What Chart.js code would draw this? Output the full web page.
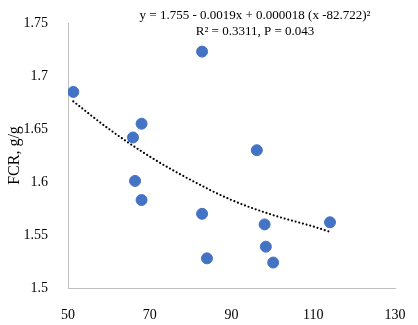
<!DOCTYPE html>
<html>
<head>
<meta charset="utf-8">
<script src="https://cdn.jsdelivr.net/npm/chart.js@4"></script>
<style>
  html, body { margin: 0; padding: 0; background: #fff; }
  #wrap { width: 418px; height: 325px; }
</style>
</head>
<body>
<div id="wrap"><canvas id="c"></canvas></div>
<script>
// observed points (x, FCR)
const pointX = [51.3, 82.8, 68.0, 65.9, 96.2, 66.4, 68.0, 82.8, 98.1, 114.1, 98.4, 84.0, 100.2]
const pointY = [1.685, 1.723, 1.655, 1.642, 1.630, 1.601, 1.583, 1.570, 1.560, 1.562, 1.539, 1.528, 1.524]

// dotted trend line
const trendX = [51.3, 60, 70, 80, 90, 100, 110, 114.1]
const trendY = [1.676, 1.650, 1.624, 1.602, 1.583, 1.569, 1.558, 1.553]

const yTicks = [1.5, 1.55, 1.6, 1.65, 1.7, 1.75]
const xTicks = [50, 70, 90, 110, 130]

const eqLine1 = 'y = 1.755 - 0.0019x + 0.000018 (x -82.722)²'
const eqLine2 = 'R² = 0.3311, P = 0.043'

const serif = '"Liberation Serif", "Times New Roman", serif'

const equationText = {
  id: 'equationText',
  afterDraw(chart){
    const ctx = chart.ctx
    ctx.save()
    ctx.fillStyle = '#000'
    ctx.font = '13px ' + serif
    ctx.textAlign = 'center'
    ctx.textBaseline = 'middle'
    ctx.fillText(eqLine1, 255, 16)
    ctx.fillText(eqLine2, 255, 32)
    ctx.restore()
  }
}

const data = {
  datasets: [{
    label: 'FCR',
    data: pointX.map((x, i) => ({x: x, y: pointY[i]})),
    backgroundColor: '#4472C4',
    borderColor: '#4472C4',
    pointRadius: 5.5,
    pointHoverRadius: 5.5,
    order: 1
  }, {
    label: 'trend',
    data: trendX.map((x, i) => ({x: x, y: trendY[i]})),
    showLine: true,
    fill: false,
    pointRadius: 0,
    borderColor: '#000',
    borderWidth: 2.2,
    borderDash: [0, 3.8],
    borderCapStyle: 'round',
    cubicInterpolationMode: 'monotone',
    order: 2
  }]
}

const config = {
  type: 'scatter',
  data: data,
  options: {
    responsive: true,
    maintainAspectRatio: false,
    animation: false,
    layout: {padding: {top: 23, right: 23, left: 5, bottom: 0}},
    plugins: {
      legend: {display: false},
      tooltip: {enabled: false}
    },
    scales: {
      x: {
        type: 'linear',
        min: 50,
        max: 130,
        afterBuildTicks: axis => { axis.ticks = xTicks.map(v => ({value: v})) },
        afterFit: axis => { axis.height = 37 },
        grid: {display: false},
        border: {display: true, color: '#bfbfbf', width: 1},
        ticks: {
          color: '#000',
          padding: 11,
          font: {family: serif, size: 14},
          callback: v => String(v)
        }
      },
      y: {
        min: 1.5,
        max: 1.75,
        afterBuildTicks: axis => { axis.ticks = yTicks.map(v => ({value: v})) },
        afterFit: axis => { axis.width = 63 },
        grid: {display: false},
        border: {display: true, color: '#bfbfbf', width: 1},
        ticks: {
          color: '#000',
          padding: 12,
          font: {family: serif, size: 14},
          callback: v => String(+v.toFixed(2))
        },
        title: {
          display: true,
          text: 'FCR, g/g',
          color: '#000',
          font: {family: serif, size: 16},
          padding: {top: 0, bottom: 0}
        }
      }
    }
  },
  plugins: [equationText]
}

new Chart(document.getElementById('c'), config)
</script>
</body>
</html>
